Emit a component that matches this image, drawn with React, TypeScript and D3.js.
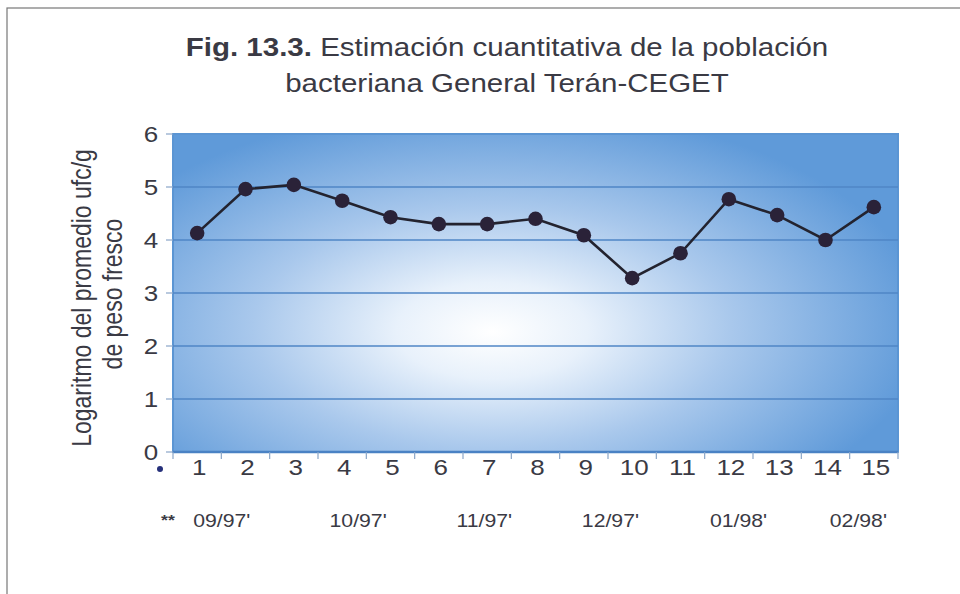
import React from "react";
import * as d3 from "d3";

const categories = ["1","2","3","4","5","6","7","8","9","10","11","12","13","14","15"];
const values = [4.13, 4.96, 5.04, 4.74, 4.43, 4.3, 4.3, 4.4, 4.09, 3.28, 3.75, 4.77, 4.47, 4.0, 4.62];
const yTicks = [0, 1, 2, 3, 4, 5, 6];
const monthLabels = ["09/97'", "10/97'", "11/97'", "12/97'", "01/98'", "02/98'"];
const monthPositions = [1.51, 4.33, 6.94, 9.55, 12.2, 14.68];

const W = 960, H = 594;
const left = 173, right = 898, top = 134, bottom = 452;
const FONT = "'Liberation Sans', Arial, sans-serif";
const TXT = "#3a3a44";
const SX = 1.18;

function T(props: { x: number; y: number; size: number; children: React.ReactNode; rotate?: number; bold?: boolean; anchor?: string }) {
  const { x, y, size, children, rotate, bold, anchor } = props;
  return (
    <text
      transform={`translate(${x},${y}) scale(${SX},1)${rotate ? ` rotate(${rotate})` : ""}`}
      textAnchor={anchor || "middle"}
      fontFamily={FONT}
      fontSize={size}
      fontWeight={bold ? "bold" : "normal"}
      fill={TXT}
    >
      {children}
    </text>
  );
}

export default function App() {
  const x = d3.scaleBand<string>().domain(categories).range([left, right]).padding(0);
  const xc = (c: string) => (x(c) as number) + x.bandwidth() / 2;
  const xPos = d3.scaleLinear().domain([0.5, categories.length + 0.5]).range([left, right]);
  const y = d3.scaleLinear().domain([0, 6]).range([bottom, top]);
  const line = d3.line<number>().x((_, i) => xc(categories[i])).y((v) => y(v));
  const ticksX = d3.range(categories.length + 1).map((i) => left + i * x.bandwidth());

  return (
    <svg width={W} height={H} style={{ position: "absolute", left: 0, top: 0, background: "#fff" }}>
      <defs>
        <radialGradient id="bg" cx="0.44" cy="0.6" r="0.6" fx="0.44" fy="0.62" gradientTransform="translate(0.44 0.6) scale(1 1.15) translate(-0.44 -0.6)">
          <stop offset="0" stopColor="#ffffff" />
          <stop offset="0.22" stopColor="#e8f1fb" />
          <stop offset="0.55" stopColor="#a9c8ec" />
          <stop offset="1" stopColor="#5f9ad9" />
        </radialGradient>
      </defs>
      <rect x={7} y={8} width={W + 10} height={H + 10} fill="none" stroke="#777" strokeWidth={1.2} />
      <T x={507} y={56} size={25}>
        <tspan fontWeight="bold">Fig. 13.3.</tspan> Estimación cuantitativa de la población
      </T>
      <T x={507} y={92} size={25}>bacteriana General Terán-CEGET</T>
      <rect x={left} y={top} width={right - left} height={bottom - top} fill="url(#bg)" stroke="#5b95d3" strokeWidth={2} />
      {yTicks.filter((t) => t > 0 && t < 6).map((t) => (
        <line key={"g" + t} x1={left} x2={right} y1={y(t)} y2={y(t)} stroke="#4f86c6" strokeWidth={1.3} />
      ))}
      <line x1={left} x2={right} y1={bottom} y2={bottom} stroke="#4a82c4" strokeWidth={2.5} />
      {yTicks.map((t) => (
        <g key={"yt" + t}>
          <line x1={left - 7} x2={left} y1={y(t)} y2={y(t)} stroke="#8aa6c8" strokeWidth={1.2} />
          <T x={151} y={y(t) + 8} size={22}>{t}</T>
        </g>
      ))}
      {ticksX.map((tx, i) => (
        <line key={"xt" + i} x1={tx} x2={tx} y1={bottom} y2={bottom + 7} stroke="#8aa6c8" strokeWidth={1.2} />
      ))}
      <T x={91} y={298} size={23} rotate={-90}>Logaritmo del promedio ufc/g</T>
      <T x={122} y={294} size={23} rotate={-90}>de peso fresco</T>
      <path d={line(values) || ""} fill="none" stroke="#23232f" strokeWidth={2.6} />
      {values.map((v, i) => (
        <circle key={"p" + i} cx={xc(categories[i])} cy={y(v)} r={7.3} fill="#2a2238" />
      ))}
      <circle cx={160} cy={469} r={3} fill="#26307a" />
      {categories.map((c) => (
        <T key={"xl" + c} x={xc(c) + 2} y={475} size={22}>{c}</T>
      ))}
      <T x={168} y={525} size={15} bold>**</T>
      {monthLabels.map((m, i) => (
        <T key={"m" + i} x={xPos(monthPositions[i])} y={527} size={18}>{m}</T>
      ))}
    </svg>
  );
}
